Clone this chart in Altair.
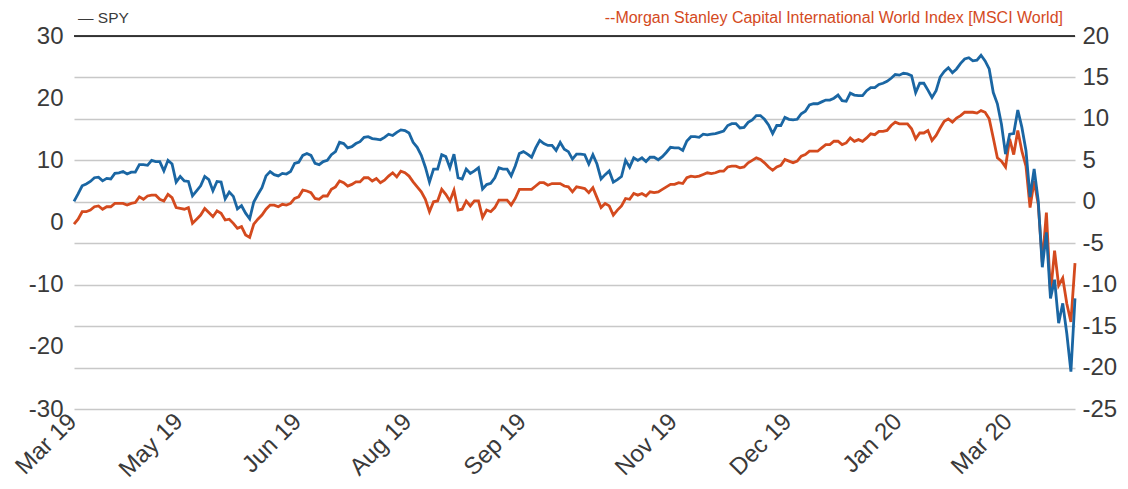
import altair as alt
import pandas as pd

# SPY cumulative return (%), left axis
spy = [
    3.4, 4.6, 5.9, 6.2, 6.6, 7.2, 7.3, 6.7, 7.1, 7.0, 7.9, 8.0, 8.2, 7.8, 8.1, 8.1, 9.3, 9.3, 9.2, 10.0,
    9.8, 9.8, 8.3, 10.0, 9.4, 6.5, 7.4, 6.7, 6.6, 4.3, 5.1, 5.9, 7.4, 6.9, 5.1, 6.6, 6.5, 3.8, 4.9, 4.2,
    2.2, 2.7, 1.5, 0.6, 3.3, 4.5, 5.6, 7.5, 8.2, 7.7, 7.5, 7.9, 7.8, 8.2, 9.5, 9.7, 10.8, 11.1, 10.8, 9.5,
    9.3, 9.8,
    10.0, 10.9, 11.4, 12.9, 12.7, 12.0, 12.2, 12.7, 13.0, 13.7, 13.8, 13.5, 13.4, 13.3, 13.7, 14.2, 14.0, 14.5,
    14.9, 14.8, 14.4, 12.9, 12.1, 10.8, 8.9, 6.5, 8.6, 8.6, 10.9, 10.6, 8.8, 11.0, 7.2, 7.0, 8.6, 7.9, 8.3,
    8.8, 5.4, 6.1, 6.3, 7.2, 8.8, 8.6, 8.6, 7.5, 9.1, 11.1, 11.4, 11.0, 10.5, 12.0, 13.2, 12.7, 12.4, 12.4,
    11.6, 12.9, 11.8, 11.4, 10.2, 11.0,
    11.0, 10.9, 9.4, 10.9, 9.4, 7.0, 7.7, 8.3, 6.5, 6.9, 7.4, 10.0, 8.9, 10.4, 10.0, 10.4, 9.8, 10.5, 10.5,
    10.1, 10.6, 11.3, 12.1, 12.0, 12.0, 11.6, 13.1, 13.8, 13.8, 13.7, 14.2, 14.1, 14.2, 14.3, 14.5, 14.7,
    15.6, 15.9, 15.9, 15.2, 15.3, 16.1, 16.5, 17.2, 17.2, 16.6, 15.7, 14.3, 15.6, 15.6, 16.9, 16.6, 16.5,
    16.6, 17.5, 17.9, 18.9, 19.1, 19.1, 19.4, 19.7, 19.7,
    20.0, 20.5, 19.6, 19.5, 20.8, 20.5, 20.4, 20.4, 21.2, 21.7, 21.7, 22.2, 22.4, 22.7, 23.2, 23.8, 23.7,
    24.0, 23.9, 23.6, 20.9, 22.4, 22.4, 21.3, 20.1, 21.2, 23.4, 24.3, 24.9, 24.1, 24.7, 25.6, 26.3, 26.5,
    26.0, 26.1, 26.9, 26.0, 24.7, 20.9, 19.1, 15.8, 11.0, 14.2, 14.3, 18.1, 15.3, 11.6, 4.1, 8.6, 3.5,
    -7.2, -1.6, -12.2, -9.2, -16.2, -13.0, -17.9, -24.0, -12.2,
]

# MSCI World cumulative return (%), right axis
msci = [
    -2.7, -2.1, -1.2, -1.2, -1.0, -0.6, -0.5, -0.9, -0.6, -0.6, -0.2, -0.2, -0.2, -0.4, -0.2, -0.1, 0.6, 0.3,
    0.7, 0.8, 0.8, 0.3, 0.1, 0.9, 0.5, -0.7, -0.8, -0.9, -0.7, -2.6, -2.1, -1.6, -0.8, -1.3, -1.8, -1.1,
    -1.4, -2.2, -2.1, -2.6, -3.2, -3.0, -4.0, -4.3, -2.7, -2.1, -1.6, -0.9, -0.4, -0.4, -0.6, -0.3, -0.4,
    -0.2, 0.4, 0.6, 1.4, 1.3, 1.1, 0.4, 0.3, 0.7,
    0.7, 1.5, 1.8, 2.5, 2.3, 1.9, 2.1, 2.4, 2.4, 2.9, 2.9, 2.5, 2.8, 2.3, 2.6, 3.1, 3.5, 3.0, 3.7, 3.5,
    3.1, 2.4, 1.8, 1.2, 0.3, -1.2, 0.0, 0.1, 1.5, 0.9, 0.1, 1.4, -1.0, -0.9, 0.1, -0.5, 0.1, 0.1, -1.9,
    -1.0, -1.2, -0.7, 0.2, 0.2, 0.2, -0.4, 0.4, 1.5, 1.5, 1.5, 1.5, 1.9, 2.3, 2.3, 2.0, 2.2, 2.2, 2.2,
    1.9, 1.8, 1.2, 1.8,
    1.7, 1.6, 1.1, 1.7, 0.5, -0.7, -0.2, -0.5, -1.6, -1.0, -0.5, 0.4, 0.3, 1.0, 0.8, 1.0, 0.7, 1.2, 1.1,
    1.2, 1.5, 1.8, 2.1, 2.1, 2.3, 2.2, 2.9, 3.1, 3.0, 3.1, 3.3, 3.5, 3.4, 3.5, 3.7, 3.7, 4.2, 4.3, 4.3,
    4.1, 4.2, 4.7, 5.0, 5.3, 5.1, 4.7, 4.2, 3.8, 4.2, 4.4, 5.1, 4.9, 4.7, 4.9, 5.5, 5.7, 6.1, 6.1, 6.1,
    6.5, 6.9, 6.9,
    7.3, 7.3, 6.9, 7.1, 7.7, 7.3, 7.5, 7.3, 7.7, 8.2, 8.1, 8.5, 8.5, 8.6, 9.2, 9.6, 9.4, 9.4, 9.4, 8.8,
    7.6, 8.3, 8.3, 8.6, 7.4, 8.0, 8.9, 9.7, 10.0, 9.6, 10.1, 10.4, 10.8, 10.8, 10.8, 10.7, 11.0, 10.8,
    10.0, 7.7, 5.3, 4.9, 4.2, 7.6, 5.7, 8.6, 6.1, 4.3, -0.7, 2.5, -0.3, -7.3, -1.3, -11.1, -5.9, -10.1,
    -9.2, -12.3, -14.5, -7.4,
]

tick_idx = [0, 26, 55, 82, 110, 147, 175, 202, 229]
tick_labels = ["Mar 19", "May 19", "Jun 19", "Aug 19", "Sep 19", "Nov 19", "Dec 19", "Jan 20", "Mar 20"]
left_ticks = [-30, -20, -10, 0, 10, 20, 30]
right_ticks = [-25, -20, -15, -10, -5, 0, 5, 10, 15, 20]

spy_name = "\u2014 SPY"
msci_name = "--Morgan Stanley Capital International World Index [MSCI World]"

BLUE = "#1a66a3"
ORANGE = "#d44a1e"
FONT = "Liberation Sans"
LABEL = "#3a3a3a"
W, H = 1001, 373

n = len(spy)
df = pd.DataFrame({"i": list(range(n)), "spy": spy, "msci": msci})

label_expr = " : ".join(f"datum.value == {i} ? '{t}'" for i, t in zip(tick_idx, tick_labels)) + " : ''"
num_expr = "replace(format(datum.value, 'd'), '\u2212', '-')"

xscale = alt.Scale(domain=[0, n - 1], nice=False, zero=False)
xaxis = alt.Axis(
    values=tick_idx, labelExpr=label_expr, labelAngle=315, labelAlign="right",
    labelBaseline="top", grid=False, domain=False, ticks=False, title=None,
    labelFontSize=24, labelColor=LABEL, labelFont=FONT, labelPadding=0, labelOffset=-10,
    labelOverlap=False, labelBound=False, labelFlush=False,
)
x_enc = alt.X("i:Q", scale=xscale, axis=xaxis)

base = alt.Chart(df)

msci_line = base.mark_line(color=ORANGE, strokeWidth=2.8).encode(
    x=x_enc,
    y=alt.Y(
        "msci:Q",
        scale=alt.Scale(domain=[-25, 20], nice=False, zero=False),
        axis=alt.Axis(
            orient="right", values=right_ticks, grid=True, gridColor="#c8c8c8", gridWidth=1.5,
            domain=False, ticks=False, title=None, labelFontSize=24, labelColor=LABEL,
            labelFont=FONT, labelPadding=7, labelExpr=num_expr,
        ),
    ),
)

spy_line = base.mark_line(color=BLUE, strokeWidth=2.8).encode(
    x=x_enc,
    y=alt.Y(
        "spy:Q",
        scale=alt.Scale(domain=[-30, 30], nice=False, zero=False),
        axis=alt.Axis(
            orient="left", values=left_ticks, grid=False, domain=False, ticks=False, title=None,
            labelFontSize=24, labelColor=LABEL, labelFont=FONT, labelPadding=11,
            labelExpr=num_expr,
        ),
    ),
)

one = alt.Chart(pd.DataFrame({"k": [0]}))
top_rule = one.mark_rule(color="black", strokeWidth=1.5).encode(
    x=alt.value(0), x2=alt.value(W), y=alt.value(0)
)
spy_text = one.mark_text(align="left", baseline="middle", fontSize=15.5, font=FONT, color=LABEL).encode(
    x=alt.value(4), y=alt.value(-18), text=alt.value(spy_name)
)
msci_text = one.mark_text(align="right", baseline="middle", fontSize=16, font=FONT, color=ORANGE).encode(
    x=alt.value(989), y=alt.value(-18), text=alt.value(msci_name)
)

chart = (
    alt.layer(msci_line, spy_line, top_rule, spy_text, msci_text)
    .resolve_scale(y="independent")
    .properties(
        width=W, height=H,
        autosize=alt.AutoSizeParams(type="none"),
        padding={"left": 66, "top": 28, "right": 45, "bottom": 72},
        background="white",
    )
    .configure_view(stroke=None)
)

chart.save("out.html", embed_options={"renderer": "svg", "actions": False})
